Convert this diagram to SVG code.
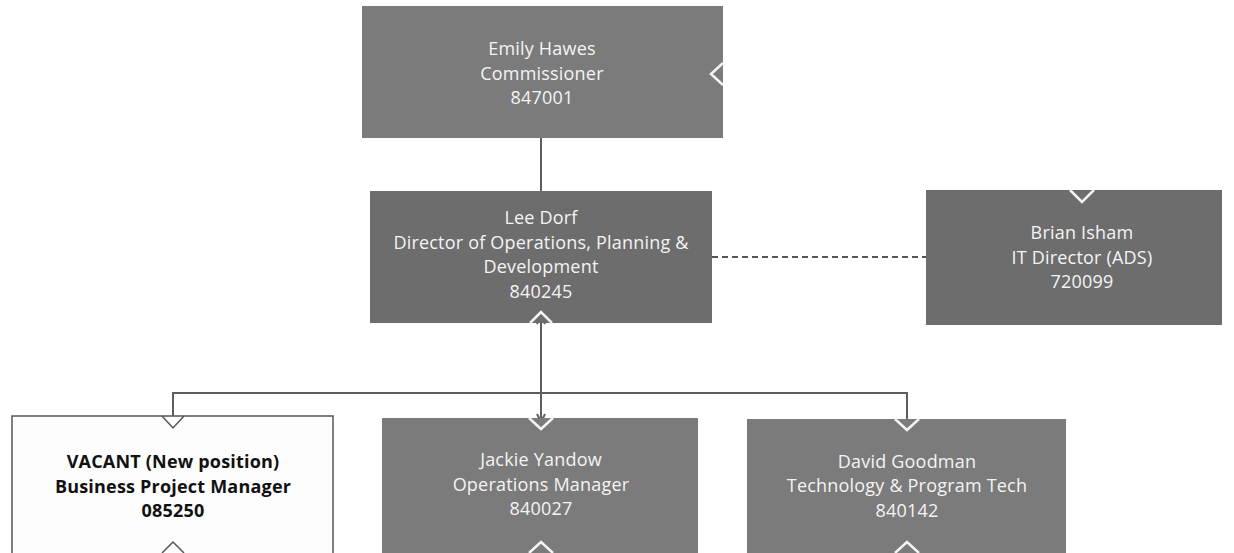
<svg xmlns="http://www.w3.org/2000/svg" width="1234" height="553" viewBox="0 0 1234 553">
<style>
.box{fill:#7b7b7b;}
.dark{fill:#6d6d6d;}
.vac{fill:#fdfdfd;stroke:#555;stroke-width:1.5;}
.t{font-family:"Open Sans","Noto Sans","Liberation Sans",sans-serif;font-size:18px;letter-spacing:0.2px;fill:#f4f4f4;text-anchor:middle;}
.tb{font-family:"Open Sans","Noto Sans","Liberation Sans",sans-serif;font-size:18px;letter-spacing:0.2px;font-weight:bold;fill:#111;text-anchor:middle;}
.chev{fill:none;stroke:#f4f4f4;stroke-width:2.5;}
.chevd{fill:none;stroke:#555;stroke-width:1.5;}
.line{fill:none;stroke:#5e5e5e;stroke-width:2;}
.dash{fill:none;stroke:#555;stroke-width:2;stroke-dasharray:6 4;}
</style>
<defs>
<marker id="ah" viewBox="0 0 10 10" refX="9" refY="5" markerWidth="5" markerHeight="5" orient="auto-start-reverse">
<path d="M1,1 L9,5 L1,9" fill="none" stroke="#5e5e5e" stroke-width="2"/>
</marker>
</defs>
<g id="connectors">
<line class="line" x1="541" y1="138" x2="541" y2="191"/>
<line class="dash" x1="712" y1="257" x2="926" y2="257"/>
<line class="line" x1="541" y1="316" x2="541" y2="422" marker-start="url(#ah)" marker-end="url(#ah)"/>
<polyline class="line" points="173,417 173,393 907,393 907,424"/>
</g>
<g id="emily">
<rect class="box" x="362" y="6" width="361" height="132"/>
<polyline class="chev" points="723,63 711,74 723,85"/>
<text class="t" x="542" y="55">Emily Hawes</text>
<text class="t" x="542" y="79.5">Commissioner</text>
<text class="t" x="542" y="104">847001</text>
</g>
<g id="lee">
<rect class="dark" x="370" y="191" width="342" height="132"/>
<polyline class="chev" points="530,323 541,312 552,323"/>
<text class="t" x="541" y="224">Lee Dorf</text>
<text class="t" x="541" y="248.5">Director of Operations, Planning &amp;</text>
<text class="t" x="541" y="273">Development</text>
<text class="t" x="541" y="297.5">840245</text>
</g>
<g id="brian">
<rect class="dark" x="926" y="190" width="296" height="135"/>
<polyline class="chev" points="1070,190 1082,202 1094,190"/>
<text class="t" x="1082" y="239">Brian Isham</text>
<text class="t" x="1082" y="263.5">IT Director (ADS)</text>
<text class="t" x="1082" y="288">720099</text>
</g>
<g id="vacant">
<rect class="vac" x="12" y="416" width="321" height="150"/>
<polyline class="chevd" points="162,416 173,428 184,416"/>
<polyline class="chevd" points="162,553 173,542 184,553"/>
<text class="tb" x="173" y="468">VACANT (New position)</text>
<text class="tb" x="173" y="492.5">Business Project Manager</text>
<text class="tb" x="173" y="517">085250</text>
</g>
<g id="jackie">
<rect class="box" x="382" y="418" width="316" height="150"/>
<polyline class="chev" points="529,418 541,429 553,418"/>
<polyline class="chev" points="529,553 541,542 553,553"/>
<text class="t" x="541" y="466">Jackie Yandow</text>
<text class="t" x="541" y="490.5">Operations Manager</text>
<text class="t" x="541" y="515">840027</text>
</g>
<g id="david">
<rect class="box" x="747" y="419" width="319" height="150"/>
<polyline class="chev" points="895,419 907,430 919,419"/>
<polyline class="chev" points="895,553 907,542 919,553"/>
<text class="t" x="907" y="467.5">David Goodman</text>
<text class="t" x="907" y="492">Technology &amp; Program Tech</text>
<text class="t" x="907" y="516.5">840142</text>
</g>
</svg>
